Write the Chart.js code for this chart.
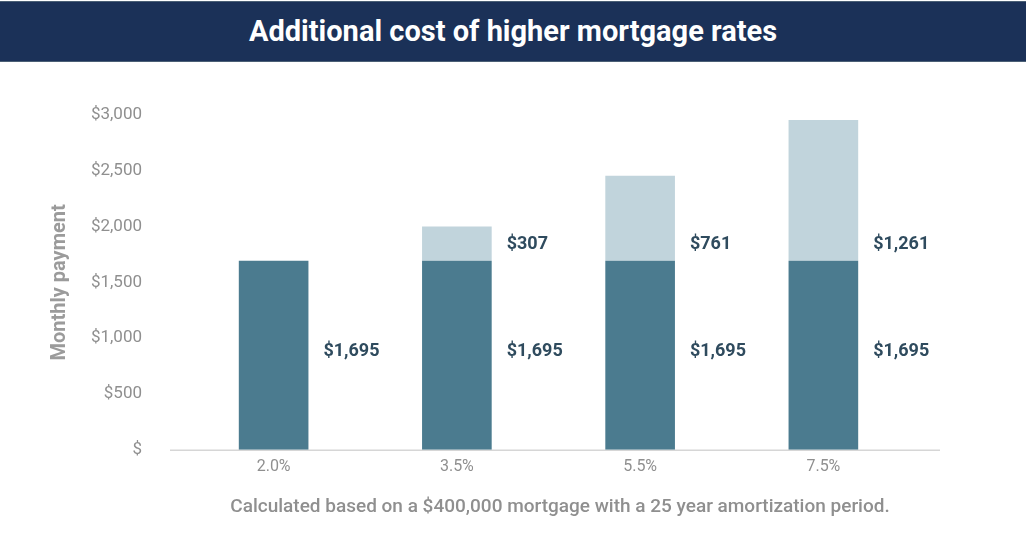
<!DOCTYPE html>
<html lang="en">
<head>
  <meta charset="UTF-8" />
  <title>Additional cost of higher mortgage rates</title>
  <script src="https://cdn.jsdelivr.net/npm/chart.js"></script>
  <style>
    html, body {
      margin: 0;
      padding: 0;
      background: #fff;
      width: 1026px;
      height: 533px;
      overflow: hidden;
    }
    .banner {
      height: 59px;
      margin-top: 1px;
      background: #1b3158;
      border-top: 1px solid #4a5f75;
      border-bottom: 1px solid #4a5f75;
      color: #fff;
      font-family: Roboto, sans-serif;
      font-weight: bold;
      font-size: 29px;
      line-height: 59px;
      text-align: center;
    }
    .wrap {
      position: relative;
      width: 1026px;
      height: 472px;
    }
    .note {
      position: absolute;
      left: 0;
      width: 1120px;
      top: 432px;
      text-align: center;
      color: #8f8f8f;
      font-family: Roboto, sans-serif;
      font-weight: 500;
      font-size: 19px;
    }
  </style>
</head>
<body>
  <div class="banner">Additional cost of higher mortgage rates</div>
  <div class="wrap">
    <canvas id="mortgageChart"></canvas>
    <div class="note">Calculated based on a $400,000 mortgage with a 25 year amortization period.</div>
  </div>

  <script>
    const rates = ["2.0%", "3.5%", "5.5%", "7.5%"];
    const basePayment = [1695, 1695, 1695, 1695];
    const extraCost = [0, 307, 761, 1261];
    const yTicks = [0, 500, 1000, 1500, 2000, 2500, 3000];

    const darkColor = "#4b7b8f";
    const lightColor = "#c1d4dc";
    const labelColor = "#2f4b5e";
    const grayText = "#8f8f8f";

    const money = v => v === 0 ? "$" : "$" + v.toLocaleString("en-US");

    // value labels to the right of each bar segment
    const sideLabels = {
      id: "sideLabels",
      afterDatasetsDraw(chart) {
        const ctx = chart.ctx;
        ctx.save();
        ctx.font = "bold 18px Roboto, sans-serif";
        ctx.fillStyle = labelColor;
        ctx.textBaseline = "middle";
        ctx.textAlign = "left";
        const base = chart.getDatasetMeta(0).data;
        base.forEach((bar, i) => {
          const right = bar.x + bar.width / 2 + 15;
          ctx.fillText(money(basePayment[i]), right, (bar.y + bar.base) / 2 - 4);
          if (extraCost[i] > 0) {
            ctx.fillText(money(extraCost[i]), right, bar.y - 16);
          }
        });
        ctx.restore();
      }
    };

    // baseline runs a bit past the bars on both sides
    const baseline = {
      id: "baseline",
      beforeDatasetsDraw(chart) {
        const { ctx, chartArea } = chart;
        const y = chart.scales.y.getPixelForValue(0) + 0.5;
        ctx.save();
        ctx.strokeStyle = "#d6d6d6";
        ctx.lineWidth = 1.5;
        ctx.beginPath();
        ctx.moveTo(chartArea.left - 12, y);
        ctx.lineTo(chartArea.right + 25, y);
        ctx.stroke();
        ctx.restore();
      }
    };

    new Chart(document.getElementById("mortgageChart"), {
      type: "bar",
      data: {
        labels: rates,
        datasets: [
          {
            label: "Base payment",
            data: basePayment,
            backgroundColor: darkColor,
            barPercentage: 0.38,
            categoryPercentage: 1
          },
          {
            label: "Additional cost",
            data: extraCost,
            backgroundColor: lightColor,
            barPercentage: 0.38,
            categoryPercentage: 1
          }
        ]
      },
      options: {
        responsive: true,
        maintainAspectRatio: false,
        animation: false,
        layout: { padding: { top: 53, left: 44, right: 111, bottom: 49 } },
        plugins: {
          legend: { display: false },
          tooltip: { enabled: false }
        },
        scales: {
          x: {
            stacked: true,
            grid: { display: false, drawTicks: false },
            border: { display: false },
            ticks: {
              color: grayText,
              font: { family: "Roboto, sans-serif", size: 16 },
              padding: 8
            }
          },
          y: {
            stacked: true,
            min: 0,
            max: 3000,
            afterBuildTicks(scale) {
              scale.ticks = yTicks.map(v => ({ value: v }));
            },
            afterFit(scale) {
              scale.width = 138;
            },
            grid: { display: false, drawTicks: false },
            border: { display: false },
            ticks: {
              color: grayText,
              font: { family: "Roboto, sans-serif", size: 17 },
              padding: 40,
              callback: v => money(v)
            },
            title: {
              display: true,
              text: "Monthly payment",
              color: "#9b9b9b",
              font: { family: "Roboto, sans-serif", size: 20, weight: "bold" },
              padding: { bottom: 0 }
            }
          }
        }
      },
      plugins: [baseline, sideLabels]
    });
  </script>
</body>
</html>
